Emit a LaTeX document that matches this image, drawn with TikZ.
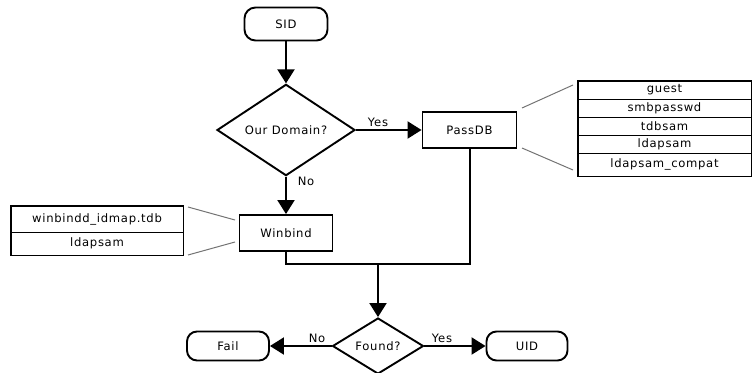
\documentclass[tikz,border=0pt]{standalone}
\usepackage{fontspec}
\setmainfont[LetterSpace=6]{DejaVu Sans}
\usetikzlibrary{shapes.geometric,arrows.meta}
\begin{document}
\begin{tikzpicture}[x=1pt,y=-1pt,
  font=\fontsize{11.6}{13}\selectfont,
  flow/.style={line width=2pt,-{Triangle[length=14pt,width=17pt]}},
  plain/.style={line width=2pt},
  term/.style={draw,line width=1.9pt,rounded corners=11pt,inner sep=0pt},
  proc/.style={draw,line width=1.9pt,inner sep=0pt},
  dec/.style={draw,diamond,line width=1.9pt,inner sep=0pt},
  row/.style={draw,line width=1pt,inner sep=0pt},
  frame/.style={draw,line width=1.9pt},
  zoomline/.style={draw=black!55,line width=1pt},
  lbl/.style={inner sep=0pt}]
\useasboundingbox (0,0) rectangle (752,372);

\node[term,minimum width=83,minimum height=33] (sid) at (286,24) {SID};
\node[dec,minimum width=138,minimum height=70] (dom) at (286,130) {Our Domain?};
\node[proc,minimum width=94,minimum height=36] (pdb) at (469.5,130) {PassDB};
\node[proc,minimum width=93,minimum height=36] (wb) at (286,233) {Winbind};
\node[dec,minimum width=91,minimum height=56] (fnd) at (378,346) {Found?};
\node[term,minimum width=82,minimum height=29,rounded corners=10pt] (fail) at (228,346) {Fail};
\node[term,minimum width=81,minimum height=29,rounded corners=10pt] (uid) at (527,346) {UID};

% PassDB backends
\node[row,minimum width=173,minimum height=18] (g) at (664.5,90) {guest};
\node[row,minimum width=173,minimum height=18] (s) at (664.5,108) {smbpasswd};
\node[row,minimum width=173,minimum height=18] (t) at (664.5,126) {tdbsam};
\node[row,minimum width=173,minimum height=18] (l) at (664.5,144) {ldapsam};
\node[row,minimum width=173,minimum height=23] (lc) at (664.5,164.5) {ldapsam\_compat};
\draw[frame] (g.north west) rectangle (lc.south east);

% Winbind backends
\node[row,minimum width=172,minimum height=26] (wi) at (97,219) {winbindd\_idmap.tdb};
\node[row,minimum width=172,minimum height=23] (wl) at (97,243.5) {ldapsam};
\draw[frame] (wi.north west) rectangle (wl.south east);

% zoom lines
\coordinate (pa1) at (522,108);
\coordinate (pa2) at (573,85);
\coordinate (pb1) at (522,148);
\coordinate (pb2) at (573,170);
\draw[zoomline] (pa1) -- (pa2);
\draw[zoomline] (pb1) -- (pb2);
\coordinate (wa1) at (188,207);
\coordinate (wa2) at (235,220);
\coordinate (wb1) at (188,255);
\coordinate (wb2) at (235,242);
\draw[zoomline] (wa1) -- (wa2);
\draw[zoomline] (wb1) -- (wb2);

% connectors
\draw[flow] (sid) -- (dom);
\draw[flow] (dom) -- (pdb);
\draw[flow] (dom) -- (wb);
\coordinate (j) at (378,264);
\draw[plain] (wb.south) |- (j);
\draw[plain] (pdb.south) |- (j);
\draw[flow] (j) -- (fnd.north);
\draw[flow] (fnd) -- (fail);
\draw[flow] (fnd) -- (uid);

% labels
\node[lbl] (ly1) at (378,122) {Yes};
\node[lbl] (ln1) at (306,181) {No};
\node[lbl] (ln2) at (317,338) {No};
\node[lbl] (ly2) at (442,338) {Yes};
\end{tikzpicture}
\end{document}
